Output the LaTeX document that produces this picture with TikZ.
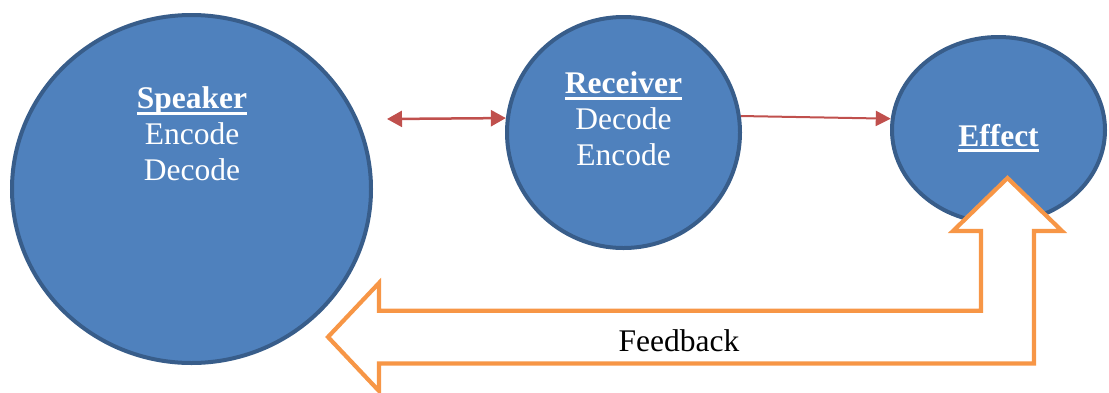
\documentclass[tikz,border=0pt]{standalone}
\usepackage{fontspec}
\setmainfont{Liberation Serif}
\usetikzlibrary{shapes.geometric,arrows.meta}
\definecolor{cfill}{HTML}{4F81BD}
\definecolor{cline}{HTML}{385D8A}
\definecolor{cred}{HTML}{C0504D}
\definecolor{corange}{HTML}{F79646}
\newcommand{\myul}[3]{\setbox0\hbox{#1}\rlap{\usebox0}\rule[-#2]{\wd0}{#3}}
\begin{document}
\begin{tikzpicture}[x=1pt,y=-1pt,
  bubble/.style={ellipse,draw=cline,fill=cfill,line width=4pt,inner sep=0pt},
  lbl/.style={anchor=base,text=white,inner sep=0pt,font=\fontsize{31.5}{36}\selectfont},
  redline/.style={draw=cred,line width=2.5pt},
  fb/.style={draw=corange,fill=white,line width=4.2pt,line join=miter}]
\useasboundingbox (0,0) rectangle (1109,392);
\node[bubble,minimum width=359pt,minimum height=348pt] (spk) at (191.5,189) {};
\node[bubble,minimum width=233pt,minimum height=231pt] (rec) at (623.5,132.5) {};
\node[bubble,minimum width=213pt,minimum height=186pt] (eff) at (998.5,130) {};
% text
\node[lbl] (spk1) at (192,108) {\bfseries\myul{Speaker}{6.8pt}{3.3pt}};
\node[lbl] (spk2) at (192,144) {Encode};
\node[lbl] (spk3) at (192,180) {Decode};
\node[lbl] (rec1) at (623.5,93) {\bfseries\myul{Receiver}{6.8pt}{3.3pt}};
\node[lbl] (rec2) at (623.5,129) {Decode};
\node[lbl] (rec3) at (623.5,165.5) {Encode};
\node[lbl] (eff1) at (998.5,146) {\bfseries\myul{Effect}{6pt}{3.3pt}};
% connectors
\coordinate (dl) at (387,119);
\draw[redline,{Triangle[length=15pt,width=16pt]}-{Triangle[length=15pt,width=16pt]}] (dl) -- (rec.173);
\draw[redline,line width=2pt,-{Triangle[length=15pt,width=15pt]}] (rec.8) -- (eff.174);
% feedback arrow
\draw[fb] (1007.5,178) -- (1062,231) -- (1034,231) -- (1034,363.5) -- (379,363.5)
  -- (379,391) -- (328,337) -- (379,283) -- (379,310.8) -- (981,310.8)
  -- (981,231) -- (953,231) -- cycle;
\node[anchor=base,inner sep=0pt,font=\fontsize{31.5}{36}\selectfont] (fbt) at (679,351) {Feedback};
\end{tikzpicture}
\end{document}
